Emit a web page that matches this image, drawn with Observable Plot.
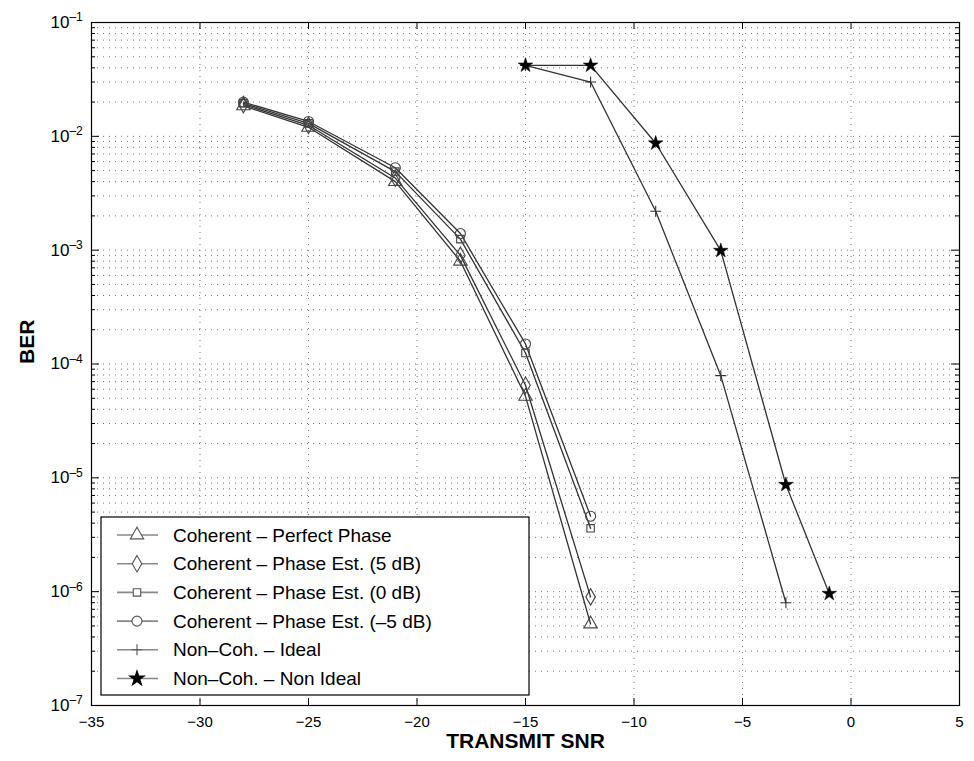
<!DOCTYPE html>
<html>
<head>
<meta charset="utf-8">
<script src="https://cdn.jsdelivr.net/npm/d3@7"></script>
<script src="https://cdn.jsdelivr.net/npm/@observablehq/plot@0.6"></script>
<style>
  html, body { margin: 0; padding: 0; background: white; }
  #chart { position: relative; width: 974px; height: 761px; }
</style>
</head>
<body>
<div id="chart"></div>
<script>
// ---- data ----
const snrCoh = [-28, -25, -21, -18, -15, -12];
const berPerfect = [0.0185, 0.0120, 0.0040, 0.00080, 5.2e-5, 5.2e-7];
const berEst5 = [0.0190, 0.0125, 0.0043, 0.00090, 6.5e-5, 9.0e-7];
const berEst0 = [0.0195, 0.0130, 0.0049, 0.00125, 1.25e-4, 3.6e-6];
const berEstM5 = [0.0200, 0.0135, 0.0053, 0.00140, 1.5e-4, 4.6e-6];
const snrIdeal = [-15, -12, -9, -6, -3];
const berIdeal = [0.042, 0.030, 0.0022, 7.9e-5, 8.0e-7];
const snrNonIdeal = [-15, -12, -9, -6, -3, -1];
const berNonIdeal = [0.042, 0.042, 0.0087, 0.00099, 8.7e-6, 9.6e-7];

const seriesNames = [
  "Coherent \u2013 Perfect Phase",
  "Coherent \u2013 Phase Est. (5 dB)",
  "Coherent \u2013 Phase Est. (0 dB)",
  "Coherent \u2013 Phase Est. (\u20135 dB)",
  "Non\u2013Coh. \u2013 Ideal",
  "Non\u2013Coh. \u2013 Non Ideal"
];
const xTicks = [-35, -30, -25, -20, -15, -10, -5, 0, 5];
const yTicks = [1e-7, 1e-6, 1e-5, 1e-4, 1e-3, 1e-2, 1e-1];
const yTickExps = ["\u20137", "\u20136", "\u20135", "\u20134", "\u20133", "\u20132", "\u20131"];
const xLabel = "TRANSMIT SNR";
const yLabel = "BER";

// ---- build tables ----
const symbols = [d3.symbolTriangle, d3.symbolDiamond, d3.symbolSquare, d3.symbolCircle, d3.symbolPlus, d3.symbolStar];
const symR = [5, 5, 4.2, 5, 3.6, 4.6];
const xs = [snrCoh, snrCoh, snrCoh, snrCoh, snrIdeal, snrNonIdeal];
const ys = [berPerfect, berEst5, berEst0, berEstM5, berIdeal, berNonIdeal];
const rows = [];
xs.forEach((xa, s) => xa.forEach((x, i) => rows.push({snr: x, ber: ys[s][i], s})));

const yMinor = [];
for (let e = -7; e < -1; e++) for (let k = 1; k <= 9; k++) yMinor.push(k * Math.pow(10, e));
yMinor.push(1e-1);
const yMinorOnly = yMinor.filter(v => !yTicks.some(t => Math.abs(t - v) / t < 1e-9));
const xGrid = xTicks.slice(1, -1);

const W = 974, H = 761, ML = 91, MR = 15, MT = 22, MB = 56;
const PW = W - ML - MR, PH = H - MT - MB;

const gridStyle = {stroke: "#777", strokeDasharray: "1,5", strokeWidth: 1};
const marks = [
  Plot.ruleY(yMinor, {y: d => d, ...gridStyle}),
  Plot.ruleX(xGrid, {x: d => d, ...gridStyle}),
  // inward ticks
  Plot.tickX(xTicks, {x: d => d, insetTop: PH - 7, stroke: "black"}),
  Plot.tickX(xTicks, {x: d => d, insetBottom: PH - 7, stroke: "black"}),
  Plot.tickY(yTicks, {y: d => d, insetRight: PW - 8, stroke: "black"}),
  Plot.tickY(yTicks, {y: d => d, insetLeft: PW - 8, stroke: "black"}),
  Plot.tickY(yMinorOnly, {y: d => d, insetRight: PW - 4, stroke: "black"}),
  Plot.tickY(yMinorOnly, {y: d => d, insetLeft: PW - 4, stroke: "black"}),
  Plot.axisX(xTicks, {tickSize: 0, tickPadding: 11, label: null, fontSize: 15}),
  Plot.axisY(yTicks, {tickSize: 0, tickPadding: 41, label: null, fontSize: 17, tickFormat: d => "10"}),
];
for (let s = 0; s < 6; s++) {
  const data = rows.filter(r => r.s === s);
  marks.push(Plot.line(data, {x: "snr", y: "ber", stroke: "#333", strokeWidth: 1.3}));
}
for (let s = 0; s < 6; s++) {
  const data = rows.filter(r => r.s === s);
  if (s === 5) {
    marks.push(Plot.dot(data, {x: "snr", y: "ber", symbol: symbols[s], r: symR[s], fill: "black", stroke: "black", strokeWidth: 0.5}));
  } else {
    marks.push(Plot.dot(data, {x: "snr", y: "ber", symbol: symbols[s], r: symR[s], fill: "none", stroke: s === 4 ? "#333" : "#444", strokeWidth: 1.1}));
  }
}
marks.push(Plot.frame({stroke: "black", strokeWidth: 1.2}));
marks.push(Plot.text([xLabel], {frameAnchor: "bottom", dy: 42, fontSize: 21, fontWeight: "bold", fill: "black"}));
marks.push(Plot.text([yLabel], {frameAnchor: "left", dx: -64, rotate: -90, fontSize: 21, fontWeight: "bold", fill: "black"}));

const plot = Plot.plot({
  width: W, height: H,
  marginLeft: ML, marginRight: MR, marginTop: MT, marginBottom: MB,
  style: {fontFamily: "'Liberation Sans', Arial, Helvetica, sans-serif", fontSize: "15px", background: "white", color: "black"},
  x: {domain: [-35, 5]},
  y: {type: "log", domain: [1e-7, 1e-1]},
  marks
});
document.getElementById("chart").appendChild(plot);

const svg = d3.select(plot);
// superscript exponents on y tick labels
svg.selectAll('g[aria-label="y-axis tick label"]').attr("text-anchor", "start");
svg.selectAll('g[aria-label="y-axis tick label"] text').each(function(d, i) {
  const t = d3.select(this);
  t.append("tspan").attr("dy", "-0.55em").attr("font-size", 12).text(yTickExps[i]);
});

// ---- legend (overlay inside plot frame) ----
const lg = svg.append("g").attr("font-family", "'Liberation Sans', Arial, sans-serif").attr("text-anchor", "start");
const LX = 101, LY = 517, LW = 428, LH = 178;
lg.append("rect").attr("x", LX).attr("y", LY).attr("width", LW).attr("height", LH)
  .attr("fill", "white").attr("stroke", "black").attr("stroke-width", 1.2);
seriesNames.forEach((name, i) => {
  const cy = 535 + i * 28.7;
  lg.append("line").attr("x1", 117).attr("x2", 158).attr("y1", cy).attr("y2", cy)
    .attr("stroke", "#888").attr("stroke-width", 1.6);
  const sz = Math.PI * symR[i] * symR[i];
  lg.append("path").attr("d", d3.symbol(symbols[i], sz)())
    .attr("transform", `translate(137,${cy})`)
    .attr("fill", i === 5 ? "black" : "white")
    .attr("stroke", i === 5 ? "black" : "#555").attr("stroke-width", 1.1);
  lg.append("text").attr("x", 173).attr("y", cy).attr("dy", "0.35em")
    .attr("font-size", 19).attr("fill", "black").text(name);
});
</script>
</body>
</html>
